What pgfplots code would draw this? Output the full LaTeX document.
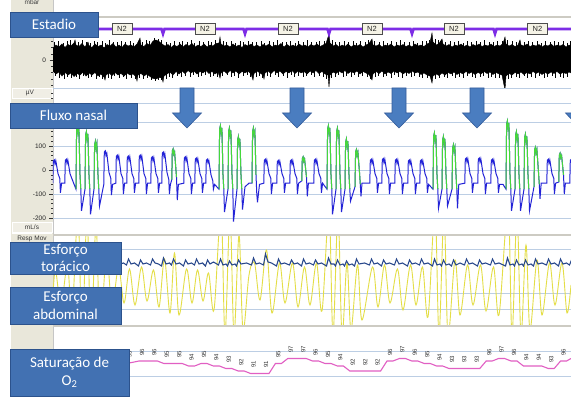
\documentclass[border=0pt]{standalone}
\usepackage{fontspec}
\setmainfont{Liberation Sans}
\newfontfamily\calloutfont{Carlito}
\usepackage{pgfplots}
\pgfplotsset{compat=1.18}
\usepackage{pgfplotstable}

\definecolor{calloutfill}{RGB}{66,113,178}
\definecolor{calloutedge}{RGB}{44,82,140}
\definecolor{arrowfill}{RGB}{74,125,192}
\definecolor{arrowedge}{RGB}{52,92,155}
\definecolor{colbg}{RGB}{233,231,218}
\definecolor{gridc}{RGB}{188,206,228}
\definecolor{sepc}{RGB}{205,203,195}
\definecolor{flowblue}{RGB}{35,35,215}
\definecolor{flowgreen}{RGB}{70,215,60}
\definecolor{abdyellow}{RGB}{228,222,70}
\definecolor{thorblue}{RGB}{40,72,140}
\definecolor{spopink}{RGB}{225,95,195}
\definecolor{hypno}{RGB}{125,45,230}
\definecolor{stagebg}{RGB}{245,243,230}

\pgfplotsset{
  psg/.style={
    scale only axis, width=518pt, xmin=53, xmax=571,
    axis line style={draw=none},
    xtick=\empty, ytick pos=left, tick align=outside,
    major tick length=3.5pt, minor tick length=2pt,
    tick style={black!80, line width=0.45pt},
    yticklabel style={font=\fontsize{6.5}{7}\selectfont, text=black!85},
    major grid style={gridc, line width=0.7pt},
    /pgf/number format/assume math mode=true,
  },
}

% nasal flow: x, value (mL/s), g = 1 on the high-amplitude (green) stretches
\pgfplotstableread{
x v g
52.8 -55 0
53.3 37 0
54.3 42 0
55.0 25 0
55.8 39 0
58.0 -15 0
59.8 -35 0
60.4 -95 0
61.6 -55 0
64.8 -55 0
65.3 40 0
66.3 45 0
67.0 28 0
67.8 42 0
70.0 -15 0
71.8 -35 0
76.0 -80 1
76.6 170 1
77.4 185 1
78.1 155 1
78.9 175 1
80.0 -20 1
80.8 -80 1
81.5 -170 0
85.0 -80 1
85.6 145 1
86.4 160 1
87.1 130 1
87.9 150 1
89.0 -20 1
89.8 -80 1
90.5 -185 0
94.0 -80 1
94.6 105 1
95.4 120 1
96.1 90 1
96.9 110 1
98.0 -20 1
98.8 -80 1
99.5 -150 0
103.8 -60 0
104.3 75 0
105.3 80 0
106.0 60 0
106.8 70 0
109.0 -10 0
110.8 -35 0
111.4 -105 0
112.6 -60 0
115.8 -55 0
116.3 57 0
117.3 62 0
118.0 45 0
118.8 58 0
121.0 -15 0
122.8 -35 0
123.4 -100 0
124.6 -55 0
126.8 -55 0
127.3 53 0
128.3 58 0
129.0 40 0
129.8 55 0
132.0 -15 0
133.8 -35 0
134.4 -95 0
135.6 -55 0
138.8 -55 0
139.3 57 0
140.3 62 0
141.0 44 0
141.8 58 0
144.0 -15 0
145.8 -35 0
146.4 -100 0
147.6 -55 0
150.8 -55 0
151.3 50 0
152.3 55 0
153.0 38 0
153.8 52 0
156.0 -15 0
157.8 -35 0
158.4 -95 0
159.6 -55 0
161.8 -55 0
162.3 70 0
163.3 75 0
164.0 55 0
164.8 68 0
167.0 -10 0
168.8 -40 0
169.4 -100 0
170.4 -60 0
171.8 -40 1
172.3 80 1
173.1 88 1
173.8 65 1
174.6 75 1
176.5 -30 1
177.3 -125 0
178.4 -60 0
183.8 -55 0
184.3 50 0
185.3 55 0
186.0 38 0
186.8 52 0
189.0 -15 0
190.8 -35 0
191.4 -100 0
192.6 -55 0
194.8 -55 0
195.3 45 0
196.3 50 0
197.0 33 0
197.8 47 0
200.0 -15 0
201.8 -35 0
202.4 -95 0
203.6 -55 0
205.8 -55 0
206.3 40 0
207.3 45 0
208.0 30 0
208.8 40 0
211.0 -20 0
212.8 -45 0
213.4 -80 0
214.6 -60 0
219.0 -80 1
219.6 170 1
220.4 185 1
221.1 155 1
221.9 175 1
223.0 -20 1
223.8 -80 1
224.5 -175 0
228.0 -80 1
228.6 160 1
229.4 175 1
230.1 145 1
230.9 165 1
232.0 -20 1
232.8 -80 1
233.5 -215 0
237.0 -80 1
237.6 125 1
238.4 140 1
239.1 110 1
239.9 130 1
241.0 -20 1
241.8 -80 1
242.5 -165 0
245.0 -70 0
249.0 -55 0
252.0 -55 1
252.6 160 1
253.4 175 1
254.1 145 1
254.9 160 1
256.0 -20 1
256.8 -100 1
257.5 -135 0
259.5 -60 0
263.8 -55 0
264.3 40 0
265.3 45 0
266.0 28 0
266.8 42 0
269.0 -15 0
270.8 -35 0
271.4 -100 0
272.6 -55 0
276.8 -55 0
277.3 35 0
278.3 40 0
279.0 23 0
279.8 37 0
282.0 -15 0
283.8 -35 0
284.4 -95 0
285.6 -55 0
289.8 -55 0
290.3 37 0
291.3 42 0
292.0 25 0
292.8 39 0
295.0 -15 0
296.8 -35 0
297.4 -100 0
298.6 -55 0
301.8 -45 1
302.3 48 1
303.1 55 1
303.8 35 1
304.6 45 1
306.5 -30 1
307.3 -110 0
308.4 -55 0
313.8 -55 0
314.3 40 0
315.3 45 0
316.0 28 0
316.8 42 0
319.0 -15 0
320.8 -35 0
321.4 -95 0
322.6 -55 0
327.0 -80 1
327.6 170 1
328.4 185 1
329.1 155 1
329.9 175 1
331.0 -20 1
331.8 -80 1
332.5 -185 0
336.0 -80 1
336.6 160 1
337.4 175 1
338.1 145 1
338.9 165 1
340.0 -20 1
340.8 -80 1
341.5 -175 0
345.0 -80 1
345.6 115 1
346.4 130 1
347.1 100 1
347.9 120 1
349.0 -20 1
349.8 -80 1
350.5 -130 0
355.0 -70 1
355.6 75 1
356.4 85 1
357.1 60 1
357.9 75 1
359.5 -10 1
360.3 -60 1
361.0 -110 0
362.0 -55 0
369.8 -55 0
370.3 40 0
371.3 45 0
372.0 28 0
372.8 42 0
375.0 -15 0
376.8 -35 0
377.4 -95 0
378.6 -55 0
381.8 -55 0
382.3 43 0
383.3 48 0
384.0 30 0
384.8 45 0
387.0 -15 0
388.8 -35 0
389.4 -100 0
390.6 -55 0
394.8 -55 0
395.3 40 0
396.3 45 0
397.0 28 0
397.8 42 0
400.0 -15 0
401.8 -35 0
402.4 -100 0
403.6 -55 0
407.8 -55 0
408.3 37 0
409.3 42 0
410.0 25 0
410.8 39 0
413.0 -15 0
414.8 -35 0
415.4 -100 0
416.6 -55 0
419.8 -55 0
420.3 37 0
421.3 42 0
422.0 25 0
422.8 39 0
425.0 -15 0
426.8 -35 0
427.4 -95 0
428.6 -60 0
433.0 -80 1
433.6 140 1
434.4 155 1
435.1 125 1
435.9 145 1
437.0 -20 1
437.8 -80 1
438.5 -160 0
442.0 -80 1
442.6 125 1
443.4 140 1
444.1 110 1
444.9 130 1
446.0 -20 1
446.8 -80 1
447.5 -150 0
452.0 -80 1
452.6 90 1
453.4 105 1
454.1 80 1
454.9 95 1
456.0 -20 1
456.8 -80 1
457.5 -160 0
458.8 -60 0
464.8 -55 0
465.3 45 0
466.3 50 0
467.0 33 0
467.8 47 0
470.0 -15 0
471.8 -35 0
472.4 -95 0
473.6 -55 0
477.8 -55 0
478.3 45 0
479.3 50 0
480.0 33 0
480.8 47 0
483.0 -15 0
484.8 -35 0
485.4 -100 0
486.6 -55 0
490.8 -55 0
491.3 40 0
492.3 45 0
493.0 28 0
493.8 42 0
496.0 -15 0
497.8 -35 0
498.4 -95 0
499.6 -60 0
503.0 -60 0
506.0 -80 1
506.6 190 1
507.4 205 1
508.1 175 1
508.9 195 1
510.0 -20 1
510.8 -80 1
511.5 -170 0
515.0 -80 1
515.6 145 1
516.4 160 1
517.1 130 1
517.9 150 1
519.0 -20 1
519.8 -80 1
520.5 -170 0
524.0 -80 1
524.6 135 1
525.4 150 1
526.1 120 1
526.9 140 1
528.0 -20 1
528.8 -80 1
529.5 -170 0
534.0 -70 1
534.6 85 1
535.4 95 1
536.1 70 1
536.9 85 1
538.5 -10 1
539.3 -60 1
540.0 -120 0
541.2 -55 0
546.8 -55 0
547.3 40 0
548.3 45 0
549.0 28 0
549.8 42 0
552.0 -15 0
553.8 -35 0
554.4 -100 0
555.6 -55 0
558.8 -50 1
559.3 62 1
560.1 70 1
560.8 50 1
561.6 60 1
563.5 -20 1
564.3 -100 0
565.4 -55 0
569.8 -55 0
570.3 40 0
571.3 45 0
}\flowtab

\begin{document}
\begin{tikzpicture}
\useasboundingbox (0pt,0pt) rectangle (571pt,-406pt);
\fill[white] (0pt,0pt) rectangle (571pt,-406pt);

% channel label column
\begin{scope}[x=1pt,y=-1pt]
  \fill[colbg] (11,0) rectangle (53,380);
  \draw[gray!45, line width=0.6pt] (53,0) -- (53,380);
  \node[font=\fontsize{6.5}{7}\selectfont, text=black!75] at (32,2) {mbar};
  \draw[white, line width=0.8pt, fill=colbg!70!white] (12,88) rectangle (52,98);
  \node[font=\fontsize{6.5}{7}\selectfont, text=black!80] at (30,93.2) {µV};
  \draw[white, line width=0.8pt, fill=colbg!70!white] (12,222) rectangle (52,232);
  \node[font=\fontsize{6.5}{7}\selectfont, text=black!80] at (32,227.2) {mL/s};
  \draw[white, line width=0.8pt] (12,233) -- (52,233);
  \node[font=\fontsize{6.5}{7}\selectfont, text=black!80] at (32,238.5) {Resp Mov};
\end{scope}

% EEG with sleep stage trace
\begin{axis}[psg, at={(53pt,-17pt)}, anchor=north west, height=71pt,
  ymin=-280, ymax=430, ytick={0}, yticklabels={0},
  minor ytick={-250,-187.5,...,375}]
  % upper and lower envelope of the EEG trace, each shaded to the baseline
  \addplot[black, fill=black, line width=0.4pt] coordinates {
   (53,120) (56,150) (59,130) (62,160) (65,125) (68,155) (71,140) (74,170) (75,200) (76,150)
   (79,135) (82,165) (85,130) (88,180) (89,145) (92,125) (95,160) (98,135) (101,150) (104,120)
   (107,155) (110,140) (113,165) (116,130) (119,150) (122,125) (125,160) (128,140) (131,150) (134,130)
   (137,160) (140,220) (141,150) (144,135) (147,165) (150,145) (153,190) (156,200) (159,185) (162,160)
   (165,140) (168,155) (171,125) (174,150) (177,135) (180,160) (183,130) (186,155) (189,140) (192,165)
   (195,130) (198,150) (201,135) (204,160) (207,130) (210,150) (213,140) (216,165) (219,170) (220,230)
   (221,160) (224,140) (227,150) (230,130) (233,160) (236,135) (239,150) (242,125) (245,155) (248,140)
   (251,160) (254,135) (257,150) (260,130) (263,155) (266,140) (269,160) (272,130) (275,150) (278,140)
   (281,165) (284,130) (287,155) (290,135) (293,150) (296,130) (299,160) (302,140) (305,150) (308,130)
   (311,155) (314,140) (317,160) (320,135) (323,150) (326,165) (329,260) (330,170) (333,140) (336,155)
   (339,130) (342,150) (345,135) (348,160) (351,130) (354,150) (357,140) (360,155) (363,130) (366,150)
   (369,165) (372,210) (373,150) (376,140) (379,155) (382,130) (385,150) (388,140) (391,160) (394,130)
   (397,150) (400,140) (403,155) (406,135) (409,150) (412,130) (415,160) (418,140) (421,150) (424,135)
   (427,160) (430,175) (432,270) (433,180) (436,150) (439,165) (442,210) (443,160) (446,140) (449,155)
   (452,130) (455,150) (458,140) (461,160) (464,135) (467,150) (470,130) (473,155) (476,140) (479,160)
   (482,135) (485,150) (488,140) (491,160) (494,135) (497,150) (500,140) (503,165) (505,230) (506,160)
   (509,140) (512,155) (515,135) (518,150) (520,200) (521,150) (524,140) (527,160) (530,135) (533,150)
   (536,140) (539,155) (542,130) (545,150) (548,140) (551,160) (554,135) (557,150) (560,140) (563,155)
   (566,130) (569,150) (571,140)} \closedcycle;
  \addplot[black, fill=black, line width=0.4pt] coordinates {
   (53,-110) (56,-140) (59,-120) (62,-160) (65,-125) (68,-150) (71,-130) (74,-165) (77,-135) (80,-150)
   (83,-120) (86,-160) (89,-130) (92,-150) (95,-125) (98,-160) (101,-140) (104,-170) (105,-200) (106,-150)
   (109,-130) (112,-155) (115,-125) (118,-150) (121,-135) (124,-160) (127,-130) (130,-150) (133,-140) (136,-165)
   (137,-210) (138,-150) (141,-135) (144,-160) (147,-140) (150,-165) (153,-185) (156,-190) (159,-175) (162,-180)
   (163,-220) (164,-160) (167,-140) (170,-120) (173,-150) (176,-115) (179,-140) (182,-110) (185,-135) (188,-105)
   (191,-130) (194,-110) (197,-140) (200,-115) (203,-130) (206,-105) (209,-135) (212,-115) (215,-140) (218,-120)
   (220,-180) (221,-130) (224,-110) (227,-135) (230,-105) (233,-130) (236,-110) (239,-140) (242,-115) (245,-130)
   (248,-110) (251,-140) (253,-200) (254,-135) (257,-110) (260,-130) (263,-150) (264,-190) (265,-130) (268,-110)
   (271,-135) (274,-105) (277,-130) (280,-110) (283,-140) (286,-115) (289,-130) (292,-105) (295,-135) (298,-110)
   (301,-130) (304,-115) (307,-140) (310,-110) (313,-130) (316,-105) (319,-135) (322,-115) (325,-140) (328,-150)
   (329,-270) (330,-150) (333,-120) (336,-135) (339,-110) (342,-130) (345,-105) (348,-135) (351,-115) (354,-130)
   (357,-110) (360,-140) (363,-115) (366,-130) (369,-145) (372,-200) (373,-140) (376,-115) (379,-135) (382,-110)
   (385,-140) (388,-120) (391,-135) (394,-110) (397,-130) (400,-115) (403,-140) (406,-120) (409,-135) (412,-110)
   (415,-130) (418,-120) (421,-145) (424,-130) (427,-150) (430,-160) (432,-230) (433,-160) (436,-140) (439,-155)
   (442,-130) (445,-150) (448,-125) (451,-140) (454,-120) (457,-145) (460,-125) (463,-140) (466,-115) (469,-135)
   (472,-120) (475,-145) (478,-125) (481,-140) (484,-115) (487,-135) (490,-120) (493,-145) (496,-125) (499,-140)
   (502,-150) (505,-300) (506,-160) (509,-135) (512,-150) (515,-125) (518,-140) (521,-120) (524,-145) (527,-125)
   (530,-140) (533,-115) (536,-135) (539,-120) (542,-145) (545,-125) (548,-140) (551,-120) (554,-135) (557,-115)
   (560,-140) (563,-125) (566,-135) (569,-120) (571,-130)} \closedcycle;
  % individual excursions that poke out of the dense band
  \addplot[black, line width=0.35pt, ycomb] coordinates {
   (54.5,175) (58.5,190) (62.7,170) (66.9,185) (70.6,200) (78.1,180) (81.7,195) (86.2,175) (90.4,170) (93.8,190)
   (97.3,175) (101.9,185) (105.5,170) (109.1,195) (112.8,180) (117.4,175) (121.6,190) (125.2,175) (129.7,185) (133.3,170)
   (138.5,190) (142.6,180) (145.9,195) (149.4,185) (154.6,215) (157.8,210) (161.2,195) (166.6,180) (170.3,170) (174.5,185)
   (178.9,175) (182.4,190) (187.2,180) (190.8,195) (194.1,170) (198.7,185) (203.3,175) (207.8,190) (211.4,175) (215.2,195)
   (222.8,185) (226.4,175) (231.1,190) (235.5,170) (239.8,185) (243.6,175) (247.9,190) (252.2,180) (256.4,175) (260.7,190)
   (264.5,170) (268.8,185) (273.1,175) (277.6,195) (281.9,180) (286.2,175) (290.4,190) (294.7,170) (298.3,185) (302.8,175)
   (307.1,195) (311.6,180) (315.8,175) (319.4,190) (324.1,185) (327.5,200) (331.8,195) (335.2,180) (339.6,175) (343.9,190)
   (348.3,175) (352.7,185) (356.1,170) (360.5,190) (364.8,175) (368.6,195) (374.4,185) (378.7,175) (382.9,190) (387.3,170)
   (391.6,185) (395.8,175) (400.2,195) (404.5,180) (408.9,175) (413.2,190) (417.6,170) (421.9,185) (426.3,190) (429.4,200)
   (434.7,210) (438.2,195) (440.6,190) (445.3,175) (449.7,190) (454.1,175) (458.4,185) (462.8,170) (467.2,190) (471.5,175)
   (475.9,185) (480.2,175) (484.6,195) (488.9,180) (493.3,175) (497.6,190) (501.9,185) (507.4,200) (511.7,185) (516.1,175)
   (519.3,190) (523.7,180) (528.1,190) (532.4,175) (536.8,185) (541.1,170) (545.5,190) (549.8,175) (554.2,185) (558.5,175)
   (562.9,190) (567.2,170) (570.5,185)};
  \addplot[black, line width=0.35pt, ycomb] coordinates {
   (55.2,-160) (59.4,-175) (63.8,-185) (67.1,-165) (71.5,-180) (75.9,-170) (79.3,-185) (83.6,-160) (87.8,-180) (91.2,-170)
   (95.7,-185) (99.3,-165) (102.6,-190) (107.8,-175) (111.3,-185) (114.6,-160) (119.2,-180) (122.7,-170) (126.3,-185) (130.8,-175)
   (134.9,-190) (139.4,-175) (143.1,-185) (147.6,-180) (151.2,-195) (154.8,-205) (158.3,-200) (160.9,-195) (165.7,-185) (169.2,-165)
   (172.6,-175) (177.4,-160) (181.1,-170) (185.6,-155) (189.7,-165) (193.2,-150) (197.9,-170) (201.3,-160) (205.1,-150) (209.8,-165)
   (213.6,-155) (217.1,-170) (222.4,-160) (226.8,-150) (230.9,-165) (234.6,-155) (238.2,-175) (242.7,-160) (247.1,-150) (250.6,-170)
   (255.8,-165) (259.3,-155) (262.1,-175) (266.9,-160) (270.4,-170) (274.8,-150) (278.5,-165) (282.9,-155) (286.7,-175) (290.9,-150)
   (294.3,-165) (298.6,-155) (302.9,-170) (306.2,-160) (310.8,-150) (314.5,-165) (318.7,-155) (322.9,-170) (326.5,-185) (331.4,-180)
   (334.7,-165) (338.2,-150) (342.8,-170) (346.4,-155) (350.7,-165) (354.2,-150) (358.6,-170) (362.3,-160) (366.8,-170) (370.5,-185)
   (374.9,-170) (378.4,-155) (382.8,-170) (386.3,-160) (390.7,-175) (394.2,-150) (398.6,-165) (402.1,-175) (406.5,-160) (410.9,-170)
   (414.4,-155) (418.8,-170) (422.3,-180) (426.7,-175) (430.8,-190) (435.2,-185) (439.6,-180) (443.9,-165) (447.3,-175) (451.7,-160)
   (455.2,-180) (459.6,-165) (463.1,-175) (467.5,-155) (471.9,-170) (475.4,-180) (479.8,-165) (483.3,-160) (487.7,-175) (491.2,-165)
   (495.6,-180) (499.1,-175) (503.5,-190) (507.9,-185) (511.4,-180) (515.8,-165) (519.3,-175) (523.7,-160) (527.2,-180) (531.6,-165)
   (535.1,-175) (539.5,-160) (543.9,-180) (547.4,-170) (551.8,-160) (555.3,-175) (559.7,-165) (563.2,-180) (567.6,-165) (570.9,-175)};
  % hypnogram: stage N2 throughout, short markers between epochs
  \addplot[hypno, line width=2.6pt] coordinates {
   (53,310) (161.5,310) (163,262) (164.5,310) (243.5,310) (245,262) (246.5,310)
   (327.5,310) (329,262) (330.5,310) (410.5,310) (412,262) (413.5,310)
   (493.5,310) (495,262) (496.5,310) (571,310)};
  \addplot[draw=none, mark=none, nodes near coords={N2},
    every node near coord/.append style={anchor=center, draw=black!70, fill=stagebg,
      text=black!85, font=\fontsize{7.5}{8}\selectfont, inner sep=0pt,
      minimum width=20pt, minimum height=11pt}]
   coordinates {(122,310) (205,310) (288,310) (372,310) (454,310) (537.5,310)};
\end{axis}

% nasal flow
\begin{axis}[psg, at={(53pt,-89pt)}, anchor=north west, height=133pt,
  ymin=-216.7, ymax=337.5, ytick={-200,-100,0,100,200,279},
  yticklabels={-200,-100,0,100,,}, minor ytick={-200,-180,...,320},
  ymajorgrids]
  \addplot[flowblue, line width=1pt] table[x=x, y=v] {\flowtab};
  \addplot[flowgreen, line width=1pt, unbounded coords=jump,
    restrict expr to domain={\thisrow{g}}{0.5:1.5},
    restrict y to domain=-95:400] table[x=x, y=v] {\flowtab};
\end{axis}

% thoracic and abdominal effort
\begin{axis}[psg, at={(53pt,-236pt)}, anchor=north west, height=89pt,
  ymin=0, ymax=89, ytick={16,32,76}, yticklabels={,,}, ymajorgrids]
  \addplot[abdyellow, line width=0.9pt, smooth, tension=0.55] coordinates {
   (53,30) (55.5,55) (61,20) (67.5,60) (72,10) (78,112) (82,-12) (87,108) (91,-12)
   (96,100) (100,-5) (106.5,70) (112,18) (118.5,58) (124,22) (129.5,56) (135,20)
   (141.5,58) (147,24) (153.5,55) (159,18) (164.5,66) (170,12) (174.5,72) (179,10)
   (186.5,56) (192,22) (197.5,55) (203,24) (208.5,52) (214,15) (221,115) (225,-10)
   (230,112) (234,-10) (239,90) (243,-5) (249,50) (254.5,62) (260,25) (266.5,75) (272,12)
   (279.5,62) (285,22) (292.5,62) (298,18) (304.5,58) (310,20) (316.5,62) (322,14)
   (329,115) (333,-10) (338,112) (342,-10) (347,62) (351,-5) (357.5,60) (362,5)
   (372.5,58) (378,18) (384.5,60) (390,22) (397.5,56) (403,15) (410.5,60) (416,20)
   (422.5,58) (428,8) (435,115) (439,-10) (444,112) (448,-10) (455,65) (460,10)
   (467.5,60) (473,20) (480.5,60) (486,14) (493.5,58) (499,10) (508,118) (512,-10)
   (517,112) (521,-10) (526,80) (530,-5) (537,65) (542,10) (549.5,62) (555,20)
   (562,62) (567,12) (571,40)};
  \addplot[thorblue, line width=1.1pt] coordinates {
   (52.5,60) (54.5,65) (57,61) (60.5,62) (64.5,59) (66.5,66) (69,61) (72.5,62)
   (75.5,60) (77.5,67) (80,62) (83,61) (84.5,59) (86.5,65) (89,61) (92,62)
   (93.5,60) (95.5,66) (98,61) (101,61) (103.5,59) (105.5,67) (108,62) (111.5,62)
   (115.5,59) (117.5,65) (120,61) (123.5,62) (126.5,60) (128.5,66) (131,61) (134.5,62)
   (138.5,59) (140.5,65) (143,61) (146.5,62) (150.5,60) (152.5,66) (155,62) (158.5,61)
   (161.5,59) (163.5,67) (166,61) (169.5,62) (171.5,60) (173.5,66) (176,61) (179.5,62)
   (183.5,59) (185.5,65) (188,61) (191.5,62) (194.5,60) (196.5,66) (199,61) (202.5,62)
   (205.5,59) (207.5,65) (210,61) (213.5,63) (218.5,60) (220.5,66) (223,60) (226,61)
   (227.5,59) (229.5,64) (232,60) (235,61) (236.5,59) (238.5,65) (241,61) (246.5,62)
   (251.5,60) (253.5,67) (256,61) (259.5,62) (263.5,60) (265.5,71) (268,63) (271.5,62)
   (276.5,59) (278.5,66) (281,61) (284.5,62) (289.5,60) (291.5,65) (294,61) (297.5,62)
   (301.5,59) (303.5,66) (306,61) (309.5,62) (313.5,60) (315.5,65) (318,61) (321.5,62)
   (326.5,59) (328.5,67) (331,61) (334,61) (335.5,59) (337.5,65) (340,60) (343,61)
   (344.5,59) (346.5,64) (349,60) (352,61) (354.5,59) (356.5,66) (359,61) (364.5,62)
   (369.5,60) (371.5,66) (374,61) (377.5,62) (381.5,59) (383.5,65) (386,61) (389.5,62)
   (394.5,60) (396.5,66) (399,61) (402.5,62) (407.5,59) (409.5,65) (412,61) (415.5,62)
   (419.5,60) (421.5,66) (424,61) (428,62) (432.5,59) (434.5,66) (437,60) (440,61)
   (441.5,59) (443.5,65) (446,60) (449,61) (451.5,59) (453.5,65) (456,60) (460,62)
   (464.5,60) (466.5,66) (469,61) (472.5,62) (477.5,59) (479.5,65) (482,61) (485.5,62)
   (490.5,60) (492.5,66) (495,61) (499,62) (505.5,59) (507.5,67) (510,60) (513,61)
   (514.5,59) (516.5,65) (519,60) (522,61) (523.5,59) (525.5,65) (528,60) (531,61)
   (533.5,59) (535.5,66) (538,61) (542,62) (546.5,60) (548.5,66) (551,61) (554.5,62)
   (558.5,59) (560.5,66) (563,61) (566.5,62) (569.5,60) (571.5,65)};
\end{axis}

% oxygen saturation
\begin{axis}[psg, at={(53pt,-330pt)}, anchor=north west, height=70pt,
  ymin=80.4, ymax=108.4, ytick={90,100}, yticklabels={,}, ymajorgrids]
  \addplot[spopink, line width=1.1pt] coordinates {
   (53,95) (126.6,95) (133,95.5) (139,96) (145,96) (151.4,96) (157.4,96) (163.8,95) (169.8,95)
   (176.2,95) (182.2,95) (188.6,94) (194.6,94) (201,95) (207,95) (213.4,94) (219.4,94)
   (225.8,93) (231.8,93) (238.2,92) (244.2,92) (250.6,91) (256.6,91) (263,91) (269,91)
   (275.4,95) (281.4,95) (287.8,97) (293.8,97) (300.2,97) (306.2,97) (312.6,96) (318.6,96)
   (325,95) (331,95) (337.4,94) (343.4,94) (349.8,92) (355.8,92) (362.2,92) (368.2,92)
   (374.6,92) (380.6,92) (387,96) (393,96) (399.4,97) (405.4,97) (411.8,96) (417.8,96)
   (424.2,95) (430.2,95) (436.6,94) (442.6,94) (449,93) (455,93) (461.4,93) (467.4,93)
   (473.8,93) (479.8,93) (486.2,96) (492.2,96) (498.6,97) (504.6,97) (511,96) (517,96)
   (523.4,94) (529.4,94) (535.8,94) (541.8,94) (548.2,93) (554.2,93) (560.6,96) (566.6,96)
   (571,97)};
  \addplot[draw=none, mark=none, point meta=y, nodes near coords,
    every node near coord/.append style={anchor=center, yshift=9pt, rotate=90,
      font=\fontsize{6}{6}\selectfont, text=black!80, inner sep=0pt}]
   coordinates {
   (55.2,95) (67.6,95) (80,95) (92.4,95) (104.8,95) (117.2,95) (129.6,95) (142,96)
   (154.4,96) (166.8,95) (179.2,95) (191.6,94) (204,95) (216.4,94) (228.8,93) (241.2,92)
   (253.6,91) (266,91) (278.4,95) (290.8,97) (303.2,97) (315.6,96) (328,95) (340.4,94)
   (352.8,92) (365.2,92) (377.6,92) (390,96) (402.4,97) (414.8,96) (427.2,95) (439.6,94)
   (452,93) (464.4,93) (476.8,93) (489.2,96) (501.6,97) (514,96) (526.4,94) (538.8,94)
   (551.2,93) (563.6,96)};
\end{axis}

% panel separators, arrows and callouts
\begin{scope}[x=1pt,y=-1pt]
  \draw[sepc, line width=1.4pt] (53,17) -- (571,17);
  \draw[gridc, line width=0.8pt] (53,88.5) -- (571,88.5);
  \draw[sepc, line width=2pt] (53,235) -- (571,235);
  \draw[sepc, line width=2pt] (53,326) -- (571,326);
  \foreach \c in {187,297,399,477,580} {
    \filldraw[fill=arrowfill, draw=arrowedge, line width=0.6pt]
      (\c-7,88) -- (\c+7,88) -- (\c+7,113) -- (\c+14.5,113) -- (\c,128)
      -- (\c-14.5,113) -- (\c-7,113) -- cycle;
  }
  \tikzset{callout/.style={draw=calloutedge, fill=calloutfill, line width=0.8pt}}
  \filldraw[callout] (10,12) rectangle (98,37);
  \node[text=white, font=\calloutfont\fontsize{15}{18}\selectfont] at (54,24.5) {Estadio};
  \filldraw[callout] (10,103) rectangle (137,128);
  \node[text=white, font=\calloutfont\fontsize{15}{18}\selectfont] at (73.5,115.5) {Fluxo nasal};
  \filldraw[callout] (10,242) rectangle (121,274);
  \node[text=white, align=center, font=\calloutfont\fontsize{15}{17.5}\selectfont] at (65.5,258) {Esforço\\torácico};
  \filldraw[callout] (10,287) rectangle (121,324);
  \node[text=white, align=center, font=\calloutfont\fontsize{15}{17.5}\selectfont] at (65.5,305.5) {Esforço\\abdominal};
  \filldraw[callout] (10,349) rectangle (129,396);
  \node[text=white, align=center, font=\calloutfont\fontsize{15}{18}\selectfont] at (69.5,372.5) {Saturação de\\O\textsubscript{2}};
\end{scope}
\end{tikzpicture}
\end{document}
